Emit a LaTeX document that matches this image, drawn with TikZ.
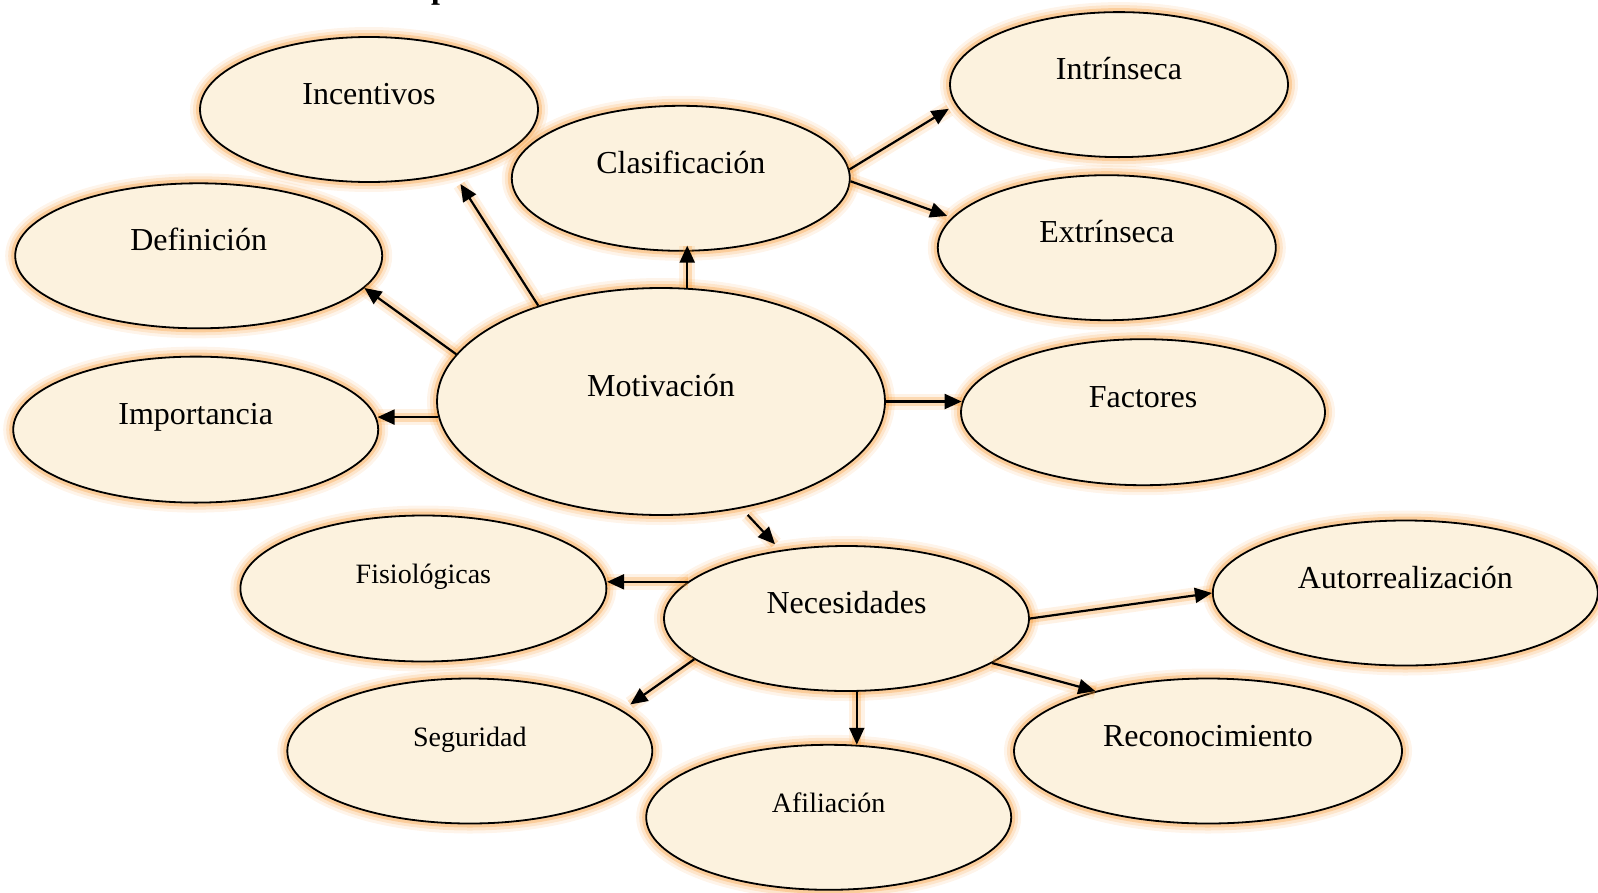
\documentclass[tikz,border=0pt]{standalone}
\usepackage{fontspec}
\setmainfont{Liberation Serif}
\usetikzlibrary{shapes.geometric,arrows.meta}
\definecolor{cream}{RGB}{252,242,222}
\definecolor{glow}{RGB}{247,150,45}
\newcommand\mybig{\fontsize{32}{38}\selectfont}
\newcommand\mysmall{\fontsize{28}{34}\selectfont}
\tikzset{
  bub/.style={ellipse, draw=black, line width=1.8pt, fill=cream, inner sep=0pt,
    text height=0pt, text depth=10pt, font=\mybig,
    preaction={draw=glow, line width=20pt, draw opacity=0.10},
    preaction={draw=glow, line width=14pt, draw opacity=0.16},
    preaction={draw=glow, line width=8pt, draw opacity=0.30}},
  smalltxt/.style={font=\mysmall},
  sz/.style 2 args={minimum width=#1, minimum height=#2},
  arr/.style={line width=2.2pt, -{Triangle[length=17pt,width=15pt]},
    preaction={draw=glow, line width=16pt, draw opacity=0.12, -},
    preaction={draw=glow, line width=9pt, draw opacity=0.28, -}},
}
\begin{document}
\begin{tikzpicture}[x=1pt,y=-1pt]
\useasboundingbox (0,0) rectangle (1598,892);
\node[anchor=base west, inner sep=0pt, font=\bfseries\mybig] (title) at (431,-2) {p};

\node[bub, sz={338pt}{145pt}] (inc) at (369,109.5) {Incentivos};
\node[bub, sz={338pt}{145pt}] (cla) at (680.8,178.3) {Clasificación};
\node[bub, sz={338pt}{145pt}] (intr) at (1119,84.6) {Intrínseca};
\node[bub, sz={338pt}{145pt}] (extr) at (1106.8,247.7) {Extrínseca};
\node[bub, sz={367pt}{145pt}] (def) at (198.7,255.8) {Definición};
\node[bub, sz={365pt}{146pt}] (imp) at (195.7,429.6) {Importancia};
\node[bub, sz={448pt}{227pt}] (mot) at (661,401.5) {Motivación};
\node[bub, sz={364pt}{146pt}] (fac) at (1143,412.2) {Factores};
\node[bub, smalltxt, sz={366pt}{146pt}] (fis) at (423.4,588.5) {Fisiológicas};
\node[bub, sz={365pt}{145pt}] (nec) at (846.5,618.5) {Necesidades};
\node[bub, sz={385pt}{145pt}] (aut) at (1405.3,593) {Autorrealización};
\node[bub, smalltxt, sz={365pt}{145pt}] (seg) at (469.8,751) {Seguridad};
\node[bub, smalltxt, sz={365pt}{145pt}] (afi) at (828.7,817.3) {Afiliación};
\node[bub, sz={388pt}{145pt}] (rec) at (1208,751) {Reconocimiento};

\draw[arr, shorten >=13pt] (mot.142.4) -- (inc.-37);
\draw[arr] (mot.167.8) -- (def.-11.1);
\draw[arr] (mot.184.2) -- (imp.3.4 |- mot.184.2);
\draw[arr, shorten >=-6pt] (mot.77) -- (mot.77 |- cla.-84.7);
\draw[arr, shorten >=8pt] (cla.3.7) -- (intr.187.4);
\draw[arr, shorten >=5pt] (cla.-1.4) -- (extr.169.4);
\draw[arr] (mot.-0.9) -- (fac.177.8 |- mot.-0.9);
\draw[arr, shorten <=9pt, shorten >=8pt] (mot.-53.2) -- (nec.134.2);
\draw[arr] (nec.167.2) -- (fis.1.7 |- nec.167.2);
\draw[arr, shorten >=10pt] (nec.195.3) -- (seg.15.9);
\draw[arr] (nec.-82.6) -- (nec.-82.6 |- afi.69.1);
\draw[arr] (nec.0.2) -- (aut.180);
\draw[arr] (nec.-17.7) -- (rec.152.4);
\end{tikzpicture}
\end{document}
